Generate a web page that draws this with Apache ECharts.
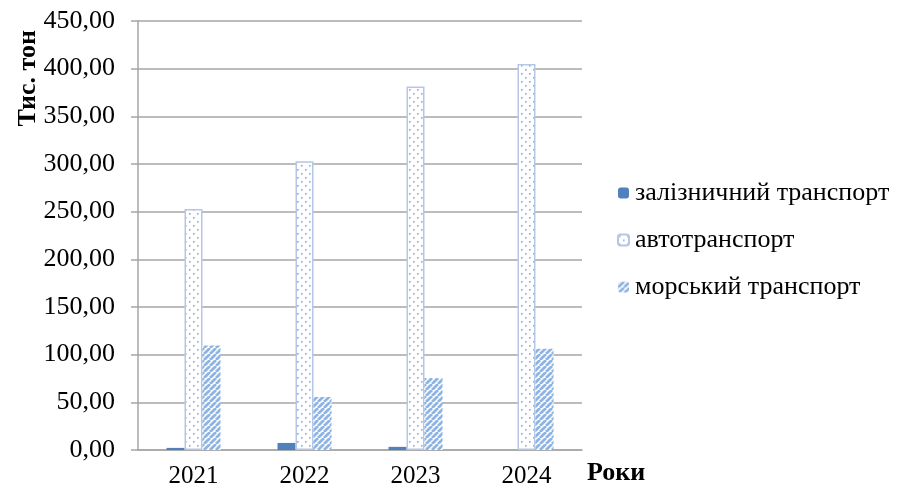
<!DOCTYPE html>
<html>
<head>
<meta charset="utf-8">
<script src="https://cdn.jsdelivr.net/npm/echarts@6/dist/echarts.min.js"></script>
<style>
  html, body { margin: 0; padding: 0; background: #ffffff; }
  #chart { width: 898px; height: 493px; }
</style>
</head>
<body>
<div id="chart"></div>
<script>
// Freight volumes by transport type, thousand tonnes
const years = ['2021', '2022', '2023', '2024'];
const railValues = [2.2, 7.4, 3.3, 0];
const roadValues = [252.8, 302.8, 381.3, 404.8];
const seaValues = [109.5, 55.7, 75.6, 106.3];
const seriesNames = ['залізничний транспорт', 'автотранспорт', 'морський транспорт'];
const yTitle = 'Тис. тон';
const xTitle = 'Роки';

const FONT = '"Liberation Serif", "Times New Roman", serif';

// Dotted fill for road transport
function dotPattern() {
  const c = document.createElement('canvas');
  c.width = 8; c.height = 8;
  const g = c.getContext('2d');
  g.fillStyle = '#ffffff';
  g.fillRect(0, 0, 8, 8);
  g.fillStyle = '#8eaadb';
  g.fillRect(1, 1, 1.6, 1.6);
  g.fillRect(5, 5, 1.6, 1.6);
  return c;
}

// Diagonal stripes for sea transport
function stripePattern() {
  const s = 6;
  const c = document.createElement('canvas');
  c.width = s; c.height = s;
  const g = c.getContext('2d');
  g.fillStyle = '#ffffff';
  g.fillRect(0, 0, s, s);
  g.strokeStyle = '#8db4e2';
  g.lineWidth = 2.8;
  g.beginPath();
  for (let k = -1; k <= 1; k++) {
    g.moveTo(k * s, s);
    g.lineTo(k * s + s, 0);
  }
  g.stroke();
  return c;
}

const chart = echarts.init(document.getElementById('chart'), null, { renderer: 'canvas' });

chart.setOption({
  animation: false,
  backgroundColor: '#ffffff',
  textStyle: { fontFamily: FONT },
  grid: { left: 138, right: 316, top: 21, bottom: 43, containLabel: false },
  legend: {
    orient: 'vertical',
    left: 617,
    top: 180,
    padding: 0,
    itemWidth: 11,
    itemHeight: 11,
    itemGap: 21,
    textStyle: { fontFamily: FONT, fontSize: 26, color: '#000000', padding: [0, 0, 0, 1] },
    data: seriesNames
  },
  graphic: [{
    type: 'text',
    left: 15,
    top: 30,
    rotation: Math.PI / 2,
    style: {
      text: yTitle,
      font: 'bold 26px ' + FONT,
      fill: '#000000'
    }
  }],
  xAxis: {
    type: 'category',
    data: years,
    name: xTitle,
    nameLocation: 'end',
    nameGap: 5,
    nameTextStyle: { fontFamily: FONT, fontSize: 26, fontWeight: 'bold', color: '#000000', verticalAlign: 'top', padding: [10, 0, 0, 0] },
    axisLine: { lineStyle: { color: '#a6a6a6', width: 1.5 } },
    axisTick: { show: false },
    axisLabel: { fontFamily: FONT, fontSize: 25, color: '#000000', margin: 14 }
  },
  yAxis: {
    type: 'value',
    min: 0,
    max: 450,
    interval: 50,
    axisLine: { show: true, lineStyle: { color: '#a6a6a6', width: 1.5 } },
    axisTick: { show: true, length: 7, lineStyle: { color: '#a6a6a6', width: 1.5 } },
    splitLine: { lineStyle: { color: '#a6a6a6', width: 1.5 } },
    axisLabel: {
      fontFamily: FONT, fontSize: 26, color: '#000000', margin: 23,
      formatter: v => v.toFixed(2).replace('.', ',')
    }
  },
  series: [
    {
      name: seriesNames[0],
      type: 'bar',
      data: railValues,
      barWidth: 18,
      barGap: '0%',
      itemStyle: { color: '#4f81bd' }
    },
    {
      name: seriesNames[1],
      type: 'bar',
      data: roadValues,
      barWidth: 18,
      barGap: '0%',
      itemStyle: { color: { image: dotPattern(), repeat: 'repeat' }, borderColor: '#b4c7e7', borderWidth: 1.5 }
    },
    {
      name: seriesNames[2],
      type: 'bar',
      data: seaValues,
      barWidth: 18,
      barGap: '0%',
      itemStyle: { color: { image: stripePattern(), repeat: 'repeat' } }
    }
  ]
});
</script>
</body>
</html>
